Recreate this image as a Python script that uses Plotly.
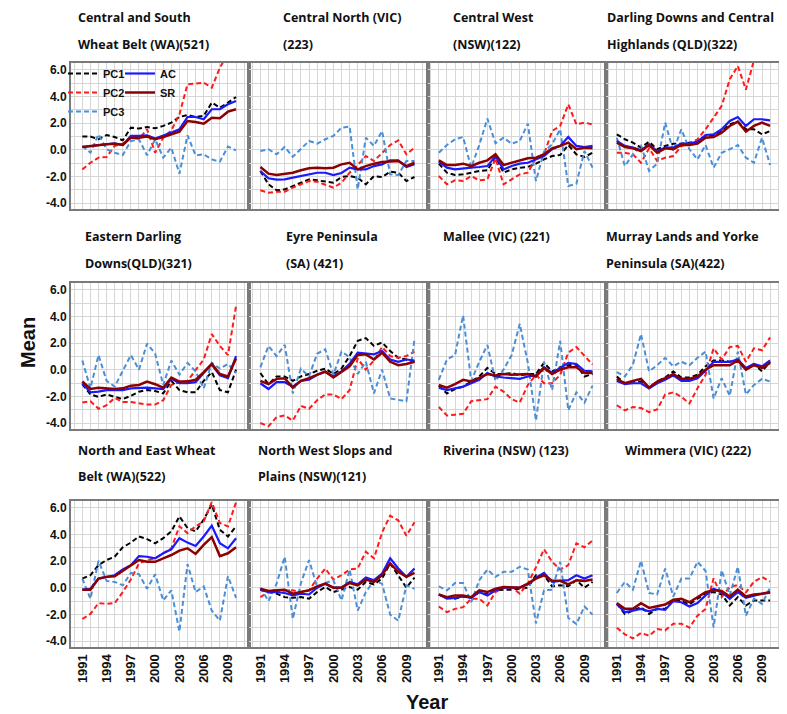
import plotly.graph_objects as go

YEARS = [1991, 1992, 1993, 1994, 1995, 1996, 1997, 1998, 1999, 2000,
         2001, 2002, 2003, 2004, 2005, 2006, 2007, 2008, 2009, 2010]

TITLE_LINE1 = ["Central and South", "Central North (VIC)", "Central West", "Darling Downs and Central",
               "Eastern Darling", "Eyre Peninsula", "Mallee (VIC) (221)", "Murray Lands and Yorke",
               "North and East Wheat", "North West Slops and", "Riverina (NSW) (123)", "Wimmera (VIC) (222)"]
TITLE_LINE2 = ["Wheat Belt (WA)(521)", "(223)", "(NSW)(122)", "Highlands (QLD)(322)",
               "Downs(QLD)(321)", "(SA) (421)", "", "Peninsula (SA)(422)",
               "Belt (WA)(522)", "Plains (NSW)(121)", "", ""]

PC1 = [
    [0.98, 0.98, 0.78, 1.1, 0.95, 0.7, 1.65, 1.58, 1.7, 1.6, 1.78, 2.03, 2.45, 2.6, 2.45, 2.53, 3.53, 3.15, 3.53, 3.95],
    [-1.6, -2.6, -3.05, -2.98, -2.73, -2.48, -2.23, -2.3, -2.4, -2.48, -2.05, -1.98, -2.1, -2.6, -1.98, -2.05, -1.65, -1.73, -2.35, -2.05],
    [-1.05, -1.73, -1.9, -1.85, -1.73, -1.6, -1.55, -0.55, -1.73, -1.48, -1.35, -1.3, -1.05, -0.73, -0.48, -0.4, 0.35, -0.35, -0.55, -0.23],
    [1.15, 0.78, 0.53, 0.15, 0.6, 0.03, 0.28, 0.45, 0.45, 0.53, 0.6, 1.03, 1.1, 1.35, 1.9, 2.1, 1.53, 1.53, 1.15, 1.4],
    [-1.09, -1.86, -2.04, -1.86, -2.04, -2.21, -1.96, -1.65, -1.53, -1.6, -1.78, -0.84, -1.53, -1.7, -1.7, -0.84, -0.18, -1.53, -1.7, 0.0],
    [-0.25, -1.09, -0.51, -0.51, -0.84, -0.51, -0.33, -0.08, 0.08, -0.33, 0.08, 1.02, 2.16, 2.37, 1.78, 2.04, 1.4, 0.89, 0.76, 0.59],
    [-1.2, -1.78, -1.45, -1.27, -0.89, -0.51, 0.13, -0.33, -0.33, -0.25, -0.43, -0.33, -0.33, 0.51, -0.13, 0.18, 0.33, 0.38, -0.51, -0.33],
    [-0.51, -1.02, -0.89, -0.89, -1.35, -0.89, -0.59, -0.13, -0.59, -0.59, -0.38, 0.25, 0.69, 0.69, 0.59, 0.76, 0.0, 0.43, -0.13, 0.59],
    [0.68, 0.93, 1.69, 2.07, 2.32, 3.03, 3.38, 3.84, 3.64, 3.33, 3.71, 4.22, 5.35, 4.47, 4.22, 5.1, 6.24, 4.34, 3.84, 4.6],
    [-0.15, -0.33, -0.45, -0.71, -0.76, -0.71, -0.83, -0.33, 0.05, -0.33, -0.15, 0.05, -0.15, 0.43, 0.25, 0.68, 1.82, 0.93, 0.0, 0.76],
    [-0.51, -0.76, -0.83, -0.66, -0.76, -0.33, -0.51, -0.2, -0.15, -0.15, -0.08, 0.0, 0.93, 0.93, 0.1, 0.18, 0.1, 0.56, 0.0, 0.43],
    [-1.21, -1.97, -1.72, -1.46, -1.97, -1.59, -1.59, -0.96, -1.01, -1.26, -0.83, -0.45, -0.33, -0.51, -1.34, -0.71, -1.34, -0.96, -0.96, -0.96],
]

PC2 = [
    [-1.48, -0.98, -0.6, -0.55, 0.28, 0.45, 0.9, 0.78, 1.53, -0.23, 0.9, 1.45, 2.65, 4.9, 4.95, 5.03, 4.65, 6.15, 7.2, 8.0],
    [-3.05, -3.23, -3.15, -3.15, -2.85, -2.6, -2.35, -2.4, -2.6, -2.85, -2.48, -1.73, -1.15, -0.48, -0.85, -0.23, 0.35, 0.7, -0.35, 0.15],
    [-1.98, -2.6, -2.3, -2.35, -1.98, -2.3, -2.23, -0.65, -2.6, -2.23, -1.85, -1.73, -0.6, -0.35, 1.4, 1.78, 3.4, 1.9, 2.03, 1.9],
    [-0.23, -0.23, -0.35, -0.98, 0.1, -0.85, -0.6, -0.48, 0.28, 0.45, 0.78, 1.53, 2.4, 3.28, 5.28, 6.28, 4.5, 6.7, 8.0, 8.5],
    [-2.47, -2.37, -2.93, -2.67, -2.11, -2.42, -2.42, -2.54, -2.62, -2.62, -2.29, -1.15, -0.94, -0.84, -0.08, 0.76, 2.67, 1.78, 1.09, 4.78],
    [-4.0, -4.25, -3.56, -3.44, -3.82, -2.72, -2.93, -2.29, -1.86, -1.86, -2.21, -1.53, 0.84, 0.0, 0.69, 1.7, 1.02, 0.89, 1.02, 1.35],
    [-2.8, -3.44, -3.38, -3.31, -2.37, -2.29, -2.21, -1.27, -1.65, -2.21, -2.47, -1.15, -0.38, -1.02, -1.02, -0.38, 1.27, 1.7, 1.02, 0.38],
    [-2.67, -3.05, -2.8, -2.88, -3.18, -2.98, -1.86, -1.7, -2.04, -2.54, -1.4, -0.38, 1.6, 0.76, 1.7, 1.78, 0.59, 1.6, 1.45, 2.42],
    [-2.35, -1.97, -1.16, -1.21, -1.16, -0.33, 0.61, 1.82, 2.07, 2.2, 2.58, 2.95, 4.6, 4.09, 4.6, 4.97, 6.41, 4.85, 4.6, 6.41],
    [-0.71, -0.33, -0.25, -0.25, -0.2, -0.33, -0.2, 0.68, 1.44, 0.61, 0.93, 1.36, 1.44, 2.7, 2.2, 4.14, 5.4, 5.05, 3.89, 4.9],
    [-1.41, -1.84, -1.59, -1.46, -0.83, -0.83, -1.34, -0.33, 0.0, 0.05, -0.45, 0.3, 1.52, 2.88, 1.94, 1.36, 1.69, 3.33, 3.03, 3.54],
    [-3.0, -3.5, -3.8, -3.4, -3.6, -3.1, -3.2, -2.7, -2.7, -3.0, -2.1, -1.6, 0.7, -0.7, 0.05, 0.2, -0.35, 0.45, 0.8, 0.45],
]

PC3 = [
    [0.28, -0.23, 1.15, 0.03, -0.23, -0.4, 0.65, 0.78, -0.43, 0.78, -0.6, 0.15, -1.8, 1.08, -0.43, -0.35, -0.73, -0.9, 0.23, -0.05],
    [-0.1, 0.03, -0.35, 0.2, -0.53, 0.1, 0.65, 0.45, 0.78, 1.03, 1.65, 1.73, -2.98, 0.9, 0.28, 1.4, -1.85, -1.9, -0.85, -0.85],
    [-0.23, 0.35, 0.78, 0.95, -1.35, 0.35, 2.33, 0.48, 0.9, 0.45, 0.65, 1.95, -2.35, -0.15, 0.4, 1.53, -2.73, -2.55, -0.1, -1.35],
    [0.9, -1.23, -0.35, 0.35, -1.6, -1.05, 2.03, -0.1, 1.53, 0.03, -0.73, 0.35, -1.35, -0.23, 0.03, 0.35, -0.6, -0.98, 0.9, -1.15],
    [0.69, -1.4, 1.09, -0.84, -1.27, -0.13, 1.09, 0.0, 1.96, 1.2, -1.15, 0.69, -0.38, 0.51, -0.13, -1.4, 0.51, 0.08, 0.43, -0.25],
    [0.18, 1.78, 1.02, 1.86, -1.78, 0.08, -0.51, 1.2, 1.53, -0.38, 1.35, 0.94, -0.33, 0.59, -1.78, 0.0, -2.16, -2.29, -2.37, 2.29],
    [-0.76, 0.76, 1.09, 4.07, -0.84, 0.59, 1.86, -0.84, 0.0, 1.09, 3.44, 0.51, -3.82, 0.59, -1.53, 2.16, -3.05, -1.7, -2.47, -1.2],
    [-0.18, -0.51, 0.38, 2.67, -0.13, 0.33, 0.89, 0.25, 0.59, 0.33, 0.89, 1.35, -2.16, -0.64, -1.96, 1.35, -1.86, -1.15, -0.69, -0.89],
    [0.68, -0.83, 2.02, 0.51, 0.43, 0.18, 1.11, 1.01, -0.08, 1.01, -0.96, -0.2, -3.3, 1.77, -0.33, 0.1, -1.72, -2.47, 0.86, -0.76],
    [0.0, -1.01, 0.3, 2.32, -2.35, 0.35, 2.07, 0.05, 0.35, 0.56, -0.96, 1.36, -1.72, -0.33, 0.51, 0.3, -2.02, -2.47, 0.18, -0.08],
    [0.1, -0.2, 0.35, 0.35, -1.09, 0.56, 1.36, 0.81, 1.19, 1.19, 1.57, 1.36, -2.68, -0.2, -0.15, 1.94, -2.27, -2.73, -1.41, -2.02],
    [-0.4, 0.43, -0.15, 2.02, -0.4, -0.51, 1.44, -0.66, 0.68, 0.68, 1.94, 1.26, -2.98, 1.31, -0.58, 1.57, -2.1, -0.83, -1.21, 0.0],
]

AC = [
    [0.2, 0.28, 0.35, 0.45, 0.48, 0.35, 1.03, 1.03, 1.08, 0.83, 1.03, 1.28, 1.53, 2.45, 2.45, 2.28, 3.03, 3.03, 3.4, 3.65],
    [-1.6, -2.15, -2.25, -2.23, -2.1, -1.98, -1.85, -1.73, -1.73, -1.9, -1.75, -1.35, -1.48, -1.48, -1.23, -1.1, -0.8, -0.8, -1.3, -1.1],
    [-0.9, -1.35, -1.48, -1.4, -1.35, -1.3, -1.23, -0.48, -1.48, -1.23, -1.05, -0.98, -0.73, -0.48, 0.03, 0.28, 0.95, 0.28, 0.2, 0.28],
    [0.65, 0.28, 0.15, -0.05, 0.4, -0.1, 0.15, 0.15, 0.45, 0.45, 0.6, 1.1, 1.15, 1.53, 2.15, 2.45, 1.78, 2.28, 2.28, 2.2],
    [-1.02, -1.7, -1.65, -1.53, -1.53, -1.53, -1.4, -1.35, -1.35, -1.4, -1.45, -0.69, -1.02, -1.02, -0.94, -0.25, 0.38, -0.43, -0.64, 1.02],
    [-1.02, -1.45, -0.94, -0.94, -1.27, -0.84, -0.76, -0.38, -0.18, -0.51, -0.13, 0.43, 1.27, 1.2, 1.15, 1.4, 0.76, 0.59, 0.76, 0.69],
    [-1.35, -1.53, -1.4, -1.27, -1.02, -0.76, -0.25, -0.51, -0.59, -0.64, -0.69, -0.51, -0.43, 0.18, -0.25, 0.13, 0.51, 0.43, -0.08, -0.13],
    [-0.84, -1.09, -1.02, -1.02, -1.4, -1.02, -0.76, -0.43, -0.84, -0.84, -0.64, -0.08, 0.59, 0.59, 0.59, 0.76, 0.13, 0.43, 0.25, 0.69],
    [-0.15, -0.08, 0.68, 0.81, 0.93, 1.36, 1.69, 2.37, 2.32, 2.2, 2.58, 2.88, 3.71, 3.38, 3.13, 3.84, 4.65, 3.33, 2.95, 3.71],
    [-0.15, -0.33, -0.33, -0.4, -0.58, -0.45, -0.51, 0.0, 0.3, 0.0, 0.0, 0.43, 0.25, 0.76, 0.56, 1.06, 2.2, 1.44, 0.81, 1.44],
    [-0.51, -0.83, -0.76, -0.66, -0.76, -0.33, -0.58, -0.2, 0.0, 0.0, 0.0, 0.25, 0.76, 1.11, 0.43, 0.51, 0.56, 0.93, 0.68, 0.93],
    [-1.21, -1.84, -1.72, -1.59, -1.77, -1.59, -1.67, -1.01, -1.09, -1.41, -1.16, -0.58, -0.08, -0.33, -0.83, -0.33, -0.76, -0.58, -0.45, -0.4],
]

SR = [
    [0.2, 0.28, 0.35, 0.4, 0.45, 0.35, 0.9, 0.9, 0.98, 0.78, 0.95, 1.15, 1.35, 2.15, 2.08, 1.95, 2.4, 2.35, 2.85, 3.03],
    [-1.3, -1.8, -1.9, -1.8, -1.73, -1.55, -1.4, -1.35, -1.4, -1.35, -1.1, -0.98, -1.48, -1.23, -1.05, -0.93, -0.9, -0.85, -1.23, -0.98],
    [-0.8, -1.15, -1.15, -1.05, -1.23, -0.98, -0.8, -0.35, -1.15, -0.98, -0.85, -0.65, -0.6, -0.35, 0.1, 0.28, 0.53, 0.03, 0.15, 0.1],
    [0.53, 0.2, 0.1, -0.1, 0.35, -0.23, 0.1, 0.03, 0.35, 0.35, 0.45, 0.9, 0.95, 1.28, 1.78, 2.1, 1.35, 1.78, 2.03, 1.78],
    [-0.89, -1.45, -1.35, -1.4, -1.45, -1.4, -1.2, -1.15, -0.89, -1.09, -1.35, -0.59, -0.89, -0.89, -0.76, -0.18, 0.43, -0.33, -0.51, 0.84],
    [-0.84, -1.09, -0.69, -0.64, -1.35, -0.84, -0.64, -0.38, -0.13, -0.59, -0.18, 0.25, 1.09, 1.15, 0.76, 1.27, 0.59, 0.33, 0.43, 0.59],
    [-1.15, -1.35, -1.09, -0.76, -0.89, -0.64, -0.33, -0.43, -0.33, -0.38, -0.38, -0.33, -0.51, 0.13, -0.33, 0.0, 0.18, 0.18, -0.25, -0.25],
    [-0.69, -1.02, -0.84, -0.69, -1.35, -0.89, -0.64, -0.33, -0.69, -0.69, -0.51, 0.0, 0.33, 0.33, 0.33, 0.69, 0.0, 0.33, 0.13, 0.51],
    [-0.15, -0.15, 0.68, 0.81, 0.86, 1.26, 1.62, 2.07, 1.94, 1.94, 2.2, 2.45, 2.78, 2.95, 2.53, 3.21, 3.79, 2.37, 2.58, 3.03],
    [-0.08, -0.25, -0.2, -0.15, -0.45, -0.33, -0.2, 0.1, 0.3, 0.0, 0.0, 0.35, 0.18, 0.61, 0.43, 0.93, 1.82, 1.19, 0.81, 1.11],
    [-0.51, -0.71, -0.58, -0.58, -0.71, -0.2, -0.33, -0.08, 0.05, 0.05, 0.0, 0.3, 0.68, 0.93, 0.51, 0.51, 0.25, 0.56, 0.51, 0.61],
    [-1.16, -1.59, -1.59, -1.16, -1.52, -1.41, -1.26, -0.91, -0.83, -1.09, -0.71, -0.33, -0.2, -0.25, -0.66, -0.15, -0.66, -0.51, -0.45, -0.33],
]

Y_TICKS = [-4, -2, 0, 2, 4, 6]
Y_TICK_LABELS = ["-4.0", "-2.0", "0.0", "2.0", "4.0", "6.0"]
X_TICKS = [1991, 1994, 1997, 2000, 2003, 2006, 2009]
X_TICK_LABELS = ["1991", "1994", "1997", "2000", "2003", "2006", "2009"]

SERIES = [
    ("PC1", PC1, dict(color="#000000", width=2, dash="5px,3px"), "legend"),
    ("PC2", PC2, dict(color="#ff1a1a", width=2, dash="5px,3px"), "legend"),
    ("PC3", PC3, dict(color="#4a8fd6", width=2, dash="5px,3px"), "legend"),
    ("AC", AC, dict(color="#1a1aff", width=2.2), "legend2"),
    ("SR", SR, dict(color="#8b0000", width=2.5), "legend2"),
]

W, H = 787, 714
COL_EDGES = [63, 241, 419.5, 597.5, 775]
ROW_TOPS = [55, 275, 493]
ROW_H = 146
TITLE_X = [68, 273, 443, 597, 75, 276, 433, 596, 68, 248, 433, 615]
TITLE_Y1 = [10, 229, 442]
TITLE_Y2 = [36, 255, 468]


def px(x):
    return x / W


def py(y):
    return 1 - y / H


BOLD = "Liberation Sans"
TITLE_FONT = dict(family="Open Sans", size=12.5, color="#111111", weight="bold")
GRID = "#d6d6d6"
BORDER = "#7a7a7a"

fig = go.Figure()
layout = {}
annotations = []

for i in range(12):
    r, c = divmod(i, 4)
    k = i + 1
    xa = "x" if k == 1 else f"x{k}"
    ya = "y" if k == 1 else f"y{k}"
    for name, data, line, leg in SERIES:
        fig.add_trace(go.Scatter(
            x=YEARS, y=data[i], mode="lines", name=name, line=line,
            xaxis=xa, yaxis=ya, showlegend=(i == 0), legend=leg,
            hoverinfo="skip"))
    x0, x1 = COL_EDGES[c], COL_EDGES[c + 1]
    y0, y1 = ROW_TOPS[r], ROW_TOPS[r] + ROW_H
    layout[f"xaxis{'' if k == 1 else k}"] = dict(
        domain=[px(x0), px(x1)], anchor=ya, range=[1989.6, 2011.6],
        tickmode="array", tickvals=X_TICKS, ticktext=X_TICK_LABELS,
        showticklabels=(r == 2), tickangle=-90,
        tickfont=dict(family=BOLD, size=13, color="#111111", weight="bold"),
        showgrid=True, gridcolor=GRID, gridwidth=1,
        minor=dict(tickmode="linear", tick0=1991, dtick=1, showgrid=True, gridcolor=GRID, gridwidth=1),
        showline=True, mirror=True, linecolor=BORDER, linewidth=2,
        zeroline=False, ticks="", fixedrange=True)
    layout[f"yaxis{'' if k == 1 else k}"] = dict(
        domain=[py(y1), py(y0)], anchor=xa, range=[-4.45, 6.5],
        tickmode="array", tickvals=Y_TICKS, ticktext=Y_TICK_LABELS,
        showticklabels=(c == 0),
        tickfont=dict(family=BOLD, size=12, color="#111111", weight="bold"),
        showgrid=True, gridcolor=GRID, gridwidth=1,
        minor=dict(tickmode="linear", tick0=0, dtick=1, showgrid=True, gridcolor=GRID, gridwidth=1),
        showline=True, mirror=True, linecolor=BORDER, linewidth=2,
        zeroline=False, ticks="", fixedrange=True)
    annotations.append(dict(text=TITLE_LINE1[i], x=px(TITLE_X[i]), y=py(TITLE_Y1[r]),
                            xref="paper", yref="paper", xanchor="left", yanchor="middle",
                            showarrow=False, font=TITLE_FONT))
    if TITLE_LINE2[i]:
        annotations.append(dict(text=TITLE_LINE2[i], x=px(TITLE_X[i]), y=py(TITLE_Y2[r]),
                                xref="paper", yref="paper", xanchor="left", yanchor="middle",
                                showarrow=False, font=TITLE_FONT))

annotations.append(dict(text="Mean", x=px(20), y=py(335), xref="paper", yref="paper",
                        textangle=-90, showarrow=False, xanchor="center", yanchor="middle",
                        font=dict(family=BOLD, size=20, color="#111111", weight="bold")))
annotations.append(dict(text="Year", x=px(419), y=py(694), xref="paper", yref="paper",
                        showarrow=False, xanchor="center", yanchor="middle",
                        font=dict(family=BOLD, size=20, color="#111111", weight="bold")))

legend_font = dict(family=BOLD, size=11, color="#111111", weight="bold")
fig.update_layout(
    width=W, height=H, margin=dict(l=0, r=0, t=0, b=0),
    paper_bgcolor="white", plot_bgcolor="white",
    annotations=annotations,
    legend=dict(x=px(55), y=py(51), xanchor="left", yanchor="top", bgcolor="rgba(0,0,0,0)",
                font=legend_font, itemwidth=30, tracegroupgap=0),
    legend2=dict(x=px(112), y=py(51), xanchor="left", yanchor="top", bgcolor="rgba(0,0,0,0)",
                 font=legend_font, itemwidth=30, tracegroupgap=0),
    **layout,
)

fig.write_html("out.html")
